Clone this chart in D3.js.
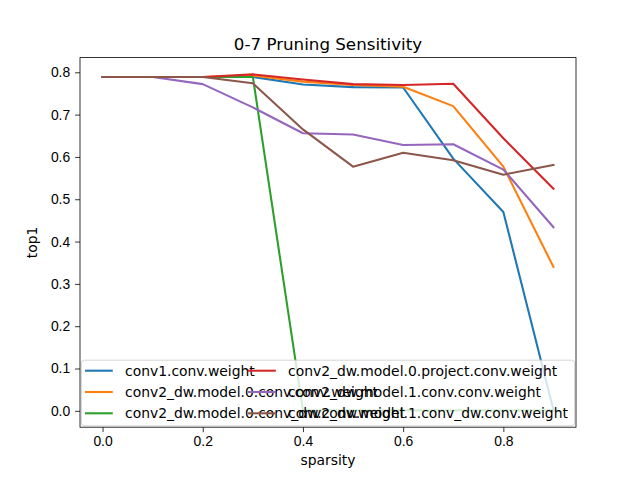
<!DOCTYPE html>
<html lang="en">
<head>
    <meta charset="UTF-8">
    <title>0-7 Pruning Sensitivity</title>
    <script src="https://cdnjs.cloudflare.com/ajax/libs/d3/7.8.5/d3.min.js"></script>
    <style>
        body { margin: 0; background: #fff; }
        svg { font-family: "DejaVu Sans", sans-serif; }
        .tick text { font-size: 13.9px; fill: #000; }
        .tick line { stroke: #000; stroke-width: 0.8px; }
        .domain { display: none; }
    </style>
</head>
<body>
<svg width="640" height="480"></svg>
<script>
    var sparsity = [0.0, 0.1, 0.2, 0.3, 0.4, 0.5, 0.6, 0.7, 0.8, 0.9];

    var seriesNames = [
        "conv1.conv.weight",
        "conv2_dw.model.0.conv.conv.weight",
        "conv2_dw.model.0.conv_dw.conv.weight",
        "conv2_dw.model.0.project.conv.weight",
        "conv2_dw.model.1.conv.conv.weight",
        "conv2_dw.model.1.conv_dw.conv.weight"
    ];

    var conv1 = [0.789, 0.789, 0.789, 0.789, 0.771, 0.765, 0.764, 0.596, 0.470, 0.002];
    var model0Conv = [0.789, 0.789, 0.789, 0.792, 0.778, 0.770, 0.766, 0.720, 0.577, 0.340];
    var model0ConvDw = [0.789, 0.789, 0.789, 0.789, 0.001, 0.001, 0.001, 0.001, 0.001, 0.001];
    var model0Project = [0.789, 0.789, 0.789, 0.795, 0.783, 0.772, 0.770, 0.773, 0.644, 0.525];
    var model1Conv = [0.789, 0.789, 0.772, 0.717, 0.656, 0.653, 0.628, 0.630, 0.570, 0.434];
    var model1ConvDw = [0.789, 0.789, 0.789, 0.774, 0.665, 0.577, 0.610, 0.592, 0.558, 0.581];

    var yTicks = [0.0, 0.1, 0.2, 0.3, 0.4, 0.5, 0.6, 0.7, 0.8];
    var xTicks = [0.0, 0.2, 0.4, 0.6, 0.8];

    var colors = ["#1f77b4", "#ff7f0e", "#2ca02c", "#d62728", "#9467bd", "#8c564b"];
    var allSeries = [conv1, model0Conv, model0ConvDw, model0Project, model1Conv, model1ConvDw];

    var margin = {top: 57.6, right: 64, bottom: 52.8, left: 80};
    var width = 640 - margin.left - margin.right;
    var height = 480 - margin.top - margin.bottom;

    var svg = d3.select("svg");
    var g = svg.append("g")
            .attr("transform", "translate(" + margin.left + "," + margin.top + ")");

    // matplotlib style 5% padding
    var xMin = d3.min(sparsity), xMax = d3.max(sparsity);
    var xPad = (xMax - xMin) * 0.05;
    var yMin = d3.min(allSeries, function (s) { return d3.min(s); });
    var yMax = d3.max(allSeries, function (s) { return d3.max(s); });
    var yPad = (yMax - yMin) * 0.05;

    var x = d3.scaleLinear().domain([xMin - xPad, xMax + xPad]).range([0, width]);
    var y = d3.scaleLinear().domain([yMin - yPad, yMax + yPad]).range([height, 0]);

    g.append("g")
            .attr("transform", "translate(0," + height + ")")
            .call(d3.axisBottom(x).tickValues(xTicks).tickFormat(d3.format(".1f"))
                    .tickSizeInner(4.9).tickPadding(4.4));

    g.append("g")
            .call(d3.axisLeft(y).tickValues(yTicks).tickFormat(d3.format(".1f"))
                    .tickSizeInner(4.9).tickPadding(4.9));

    var line = d3.line()
            .x(function (d, i) { return x(sparsity[i]); })
            .y(function (d) { return y(d); });

    g.selectAll(".series")
            .data(allSeries)
            .enter()
            .append("path")
            .attr("class", "series")
            .attr("d", line)
            .attr("fill", "none")
            .attr("stroke", function (d, i) { return colors[i]; })
            .attr("stroke-width", 2.08)
            .attr("stroke-linecap", "square")
            .attr("stroke-linejoin", "round");

    // legend, lower left, two columns stretched across the axes
    var legend = g.append("g").attr("transform", "translate(0," + height + ")");
    legend.append("rect")
            .attr("x", 1.4)
            .attr("y", -67)
            .attr("width", width - 2.8)
            .attr("height", 65.6)
            .attr("rx", 2.8)
            .attr("fill", "#fff")
            .attr("fill-opacity", 0.8)
            .attr("stroke", "#cccccc")
            .attr("stroke-opacity", 0.8)
            .attr("stroke-width", 1);

    var items = legend.selectAll(".item")
            .data(seriesNames)
            .enter()
            .append("g")
            .attr("class", "item")
            .attr("transform", function (d, i) {
                var col = Math.floor(i / 3), row = i % 3;
                return "translate(" + (col === 0 ? 5 : 168) + "," + (-56.5 + row * 21.3) + ")";
            });

    items.append("line")
            .attr("x1", 0).attr("x2", 27.8)
            .attr("stroke", function (d, i) { return colors[i]; })
            .attr("stroke-width", 2.08);

    items.append("text")
            .attr("x", 40)
            .attr("dy", "0.35em")
            .style("font-size", "13.9px")
            .text(function (d) { return d; });

    g.append("rect")
            .attr("width", width)
            .attr("height", height)
            .attr("fill", "none")
            .attr("stroke", "#000")
            .attr("stroke-width", 0.8);

    svg.append("text")
            .attr("x", margin.left + width / 2)
            .attr("y", 50)
            .attr("text-anchor", "middle")
            .style("font-size", "16.7px")
            .text("0-7 Pruning Sensitivity");

    svg.append("text")
            .attr("x", margin.left + width / 2)
            .attr("y", 465)
            .attr("text-anchor", "middle")
            .style("font-size", "13.9px")
            .text("sparsity");

    svg.append("text")
            .attr("transform", "translate(37," + (margin.top + height / 2) + ") rotate(-90)")
            .attr("text-anchor", "middle")
            .style("font-size", "13.9px")
            .text("top1");
</script>
</body>
</html>
